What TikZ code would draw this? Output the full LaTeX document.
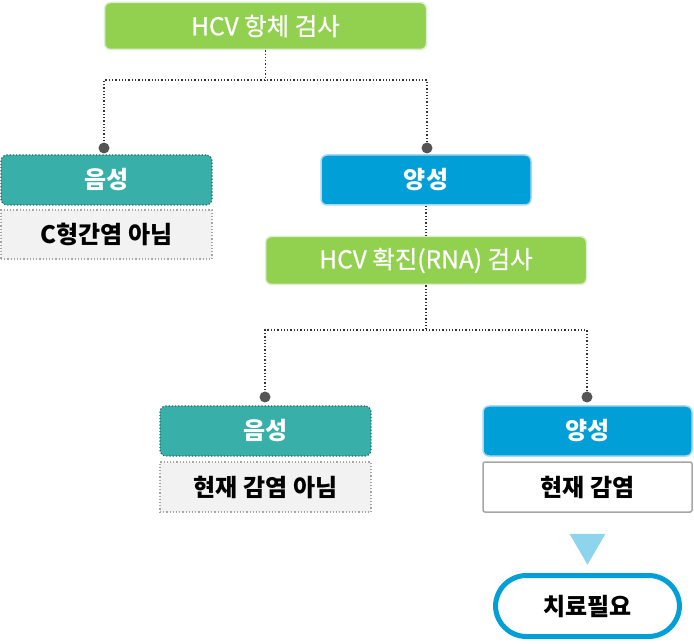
\documentclass[tikz,border=0pt]{standalone}
\usepackage{fontspec}
\setmainfont{Noto Sans CJK KR}
\newfontfamily\krmed{Noto Sans CJK KR}[FakeBold=0.8]
\usetikzlibrary{calc}
\definecolor{cgreen}{HTML}{92D050}
\definecolor{cgreenb}{HTML}{DDEFD0}
\definecolor{cteal}{HTML}{38B0A9}
\definecolor{ctealb}{HTML}{2A5F5C}
\definecolor{cblue}{HTML}{009FD7}
\definecolor{cblueb}{HTML}{A9D8F0}
\definecolor{cgrayf}{HTML}{F2F2F2}
\definecolor{cgrayb}{HTML}{A6A6A6}
\definecolor{ctri}{HTML}{8ED4EC}
\definecolor{cdot}{HTML}{555555}
\tikzset{
  testbox/.style={draw=cgreenb, line width=1.5pt, fill=cgreen, rounded corners=6pt, text=white, font=\fontsize{24.5}{28}\selectfont\krmed, inner sep=0pt},
  negbox/.style={draw=ctealb, dotted, line width=1.2pt, fill=cteal, rounded corners=6pt, text=white, font=\fontsize{24}{28}\selectfont\bfseries, minimum width=211pt, minimum height=50pt, inner sep=0pt},
  posbox/.style={draw=cblueb, line width=1.5pt, fill=cblue, rounded corners=6pt, text=white, font=\fontsize{24}{28}\selectfont\bfseries, minimum width=210pt, minimum height=50pt, inner sep=0pt},
  resneg/.style={draw=cgrayb, dotted, line width=1.2pt, fill=cgrayf, text=black, font=\fontsize{24}{28}\selectfont\bfseries, minimum width=211pt, minimum height=49pt, inner sep=0pt},
  respos/.style={draw=cgrayb, line width=1.5pt, fill=white, rounded corners=2pt, text=black, font=\fontsize{24}{28}\selectfont\bfseries, minimum width=209pt, minimum height=49pt, inner sep=0pt},
  treat/.style={draw=cblue, line width=5pt, fill=white, rounded corners=31pt, text=black, font=\fontsize{24}{28}\selectfont\bfseries, minimum width=184pt, minimum height=61pt, inner sep=0pt},
  conn/.style={draw=black!80, dotted, line width=1.3pt},
  enddot/.style={circle, fill=cdot, minimum size=11pt, inner sep=0pt},
}
\begin{document}
\begin{tikzpicture}[x=1pt,y=-1pt]
\useasboundingbox (0,0) rectangle (694,644);
% nodes
\node[testbox, minimum width=322pt, minimum height=47pt] (top) at (265.5,26) {HCV 항체 검사};
\node[negbox] (neg1) at (106.5,180) {음성};
\node[resneg] (nr1) at (106.5,234.5) {C형간염 아님};
\node[posbox] (pos1) at (426,180) {양성};
\node[testbox, minimum width=321pt, minimum height=48pt] (rna) at (426,260.5) {HCV 확진(RNA) 검사};
\node[negbox] (neg2) at (265.5,431) {음성};
\node[resneg, minimum height=50pt] (nr2) at (265.5,487) {현재 감염 아님};
\node[posbox, minimum width=209pt] (pos2) at (587.5,431) {양성};
\node[respos, minimum height=50pt] (pr2) at (587.5,487) {현재 감염};
\node[treat] (tx) at (587.5,606) {치료필요};
% connector coordinates
\coordinate (j1) at (265.5,80);
\coordinate (d1) at (104,148);
\coordinate (d2) at (427,148);
\coordinate (j2) at (426,330);
\coordinate (d3) at (265,397);
\coordinate (d4) at (587,397);
% connectors
\draw[conn] (top.south) -- (j1);
\draw[conn] (d1) -- (d1 |- j1) -- (d2 |- j1) -- (d2);
\draw[conn] (pos1.south) -- (rna.north);
\draw[conn] (rna.south) -- (j2);
\draw[conn] (d3) -- (d3 |- j2) -- (d4 |- j2) -- (d4);
\node[enddot] (e1) at (d1) {};
\node[enddot] (e2) at (d2) {};
\node[enddot] (e3) at (d3) {};
\node[enddot] (e4) at (d4) {};
% arrow triangle
\fill[ctri] ($(pr2.south)+(-18,21)$) -- ($(pr2.south)+(18,21)$) -- ($(pr2.south)+(0,52)$) -- cycle;
\end{tikzpicture}
\end{document}
